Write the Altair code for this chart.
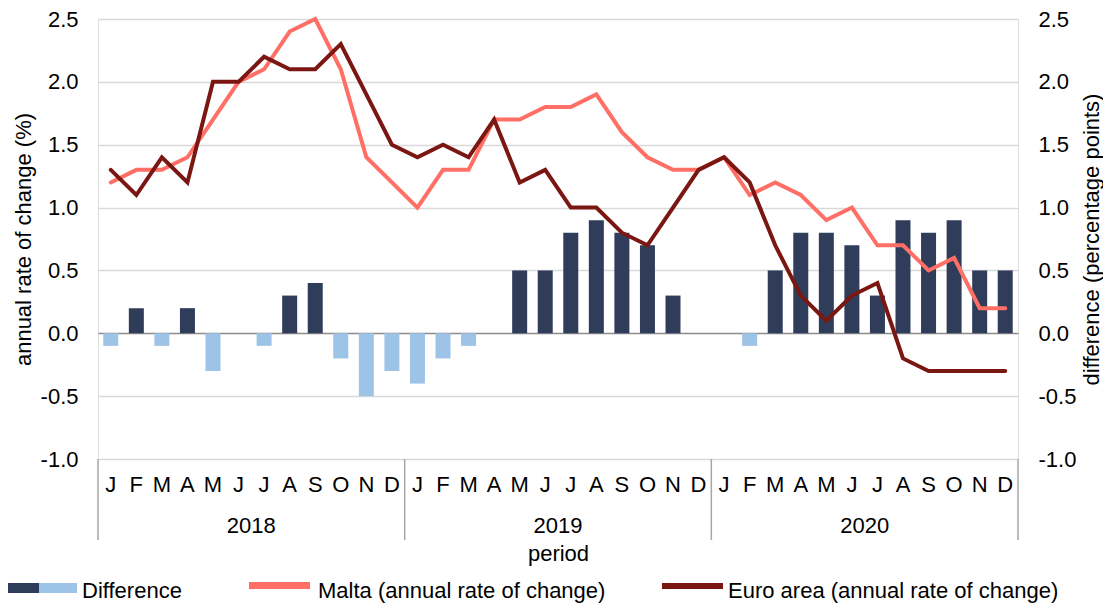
import altair as alt
import pandas as pd

# ---------------- data ----------------
years = ["2018", "2019", "2020"]
month_letters = ["J", "F", "M", "A", "M", "J", "J", "A", "S", "O", "N", "D"]
malta = [1.2, 1.3, 1.3, 1.4, 1.7, 2.0, 2.1, 2.4, 2.5, 2.1, 1.4, 1.2,
         1.0, 1.3, 1.3, 1.7, 1.7, 1.8, 1.8, 1.9, 1.6, 1.4, 1.3, 1.3,
         1.4, 1.1, 1.2, 1.1, 0.9, 1.0, 0.7, 0.7, 0.5, 0.6, 0.2, 0.2]
euro_area = [1.3, 1.1, 1.4, 1.2, 2.0, 2.0, 2.2, 2.1, 2.1, 2.3, 1.9, 1.5,
             1.4, 1.5, 1.4, 1.7, 1.2, 1.3, 1.0, 1.0, 0.8, 0.7, 1.0, 1.3,
             1.4, 1.2, 0.7, 0.3, 0.1, 0.3, 0.4, -0.2, -0.3, -0.3, -0.3, -0.3]
difference = [-0.1, 0.2, -0.1, 0.2, -0.3, 0.0, -0.1, 0.3, 0.4, -0.2, -0.5, -0.3,
              -0.4, -0.2, -0.1, 0.0, 0.5, 0.5, 0.8, 0.9, 0.8, 0.7, 0.3, 0.0,
              0.0, -0.1, 0.5, 0.8, 0.8, 0.7, 0.3, 0.9, 0.8, 0.9, 0.5, 0.5]
y_ticks = [-1.0, -0.5, 0.0, 0.5, 1.0, 1.5, 2.0, 2.5]

n = len(malta)
df = pd.DataFrame({
    "pos": [i + 0.5 for i in range(n)],
    "month": [month_letters[i % 12] for i in range(n)],
    "malta": malta,
    "euro": euro_area,
    "diff": difference,
})
year_df = pd.DataFrame({"year": years, "center": [6, 18, 30]})
sep_df = pd.DataFrame({"b": [0, 12, 24, 36]})

# ---------------- style ----------------
FONT = "Liberation Sans"
FS = 22
NAVY = "#2f3c5a"
LIGHT = "#9dc3e6"
MALTA_C = "#ff6f66"
EURO_C = "#7b1712"
W, H = 920, 440

xscale = alt.Scale(domain=[0, 36], nice=False, zero=False, padding=0)
yscale = alt.Scale(domain=[-1, 2.5], nice=False, zero=False)

x_axis = alt.Axis(labels=False, ticks=False, domain=False, grid=False,
                  title="period", titleFont=FONT, titleFontSize=FS,
                  titleFontWeight="normal", titleColor="#000",
                  titleY=94, titleBaseline="middle")

common_y = dict(values=y_ticks, format=".1f", ticks=False, domain=False,
                labelPadding=20, labelFont=FONT, labelFontSize=FS,
                labelColor="#000", titleFont=FONT, titleFontSize=FS,
                titleFontWeight="normal", titleColor="#000", titleAngle=270,
                titleY=H / 2, titleBaseline="middle", titleAlign="center")

bars = alt.Chart(df).mark_bar(size=15).encode(
    x=alt.X("pos:Q", scale=xscale, axis=x_axis),
    y=alt.Y("diff:Q", scale=yscale, axis=alt.Axis(
        orient="right", grid=False, title="difference (percentage points)",
        titleX=73, **common_y)),
    color=alt.condition("datum.diff > 0", alt.value(NAVY), alt.value(LIGHT)),
)

malta_line = alt.Chart(df).mark_line(
    color=MALTA_C, strokeWidth=4, strokeCap="round"
).encode(
    x=alt.X("pos:Q", scale=xscale),
    y=alt.Y("malta:Q", scale=yscale, axis=alt.Axis(
        orient="left", grid=True,
        gridColor=alt.condition("datum.value === 0",
                                alt.value("#8c8c8c"), alt.value("#d9d9d9")),
        gridWidth=1.5, title="annual rate of change (%)", titleX=-75,
        **common_y)),
)
euro_line = alt.Chart(df).mark_line(
    color=EURO_C, strokeWidth=4, strokeCap="round"
).encode(
    x=alt.X("pos:Q", scale=xscale),
    y=alt.Y("euro:Q", scale=yscale, axis=None),
)

# category axis: month letters, year labels, year separators
seps = alt.Chart(sep_df).mark_rule(color="#a6a6a6", strokeWidth=1.5).encode(
    x=alt.X("b:Q", scale=xscale), y=alt.value(H), y2=alt.value(H + 81)
)
month_text = alt.Chart(df).mark_text(
    font=FONT, fontSize=FS, color="#000", baseline="middle"
).encode(x=alt.X("pos:Q", scale=xscale), y=alt.value(H + 26), text="month:N")
year_text = alt.Chart(year_df).mark_text(
    font=FONT, fontSize=FS, color="#000", baseline="middle"
).encode(x=alt.X("center:Q", scale=xscale), y=alt.value(H + 67), text="year:N")

# legend (manual, matching the original's two-colour swatch)
one = pd.DataFrame({"k": [0]})
def swatch(x0, x1, y0, y1, c):
    return alt.Chart(one).mark_rect(color=c).encode(
        x=alt.value(x0), x2=alt.value(x1), y=alt.value(y0), y2=alt.value(y1))
def label(x0, t):
    return alt.Chart(one).mark_text(
        font=FONT, fontSize=FS, color="#000", align="left", baseline="alphabetic"
    ).encode(x=alt.value(x0), y=alt.value(579), text=alt.value(t))

legend_parts = [
    swatch(-90, -59, 564, 574, NAVY),
    swatch(-59, -21, 564, 574, LIGHT),
    label(-16, "Difference"),
    swatch(151, 212, 563, 570, MALTA_C),
    label(220, "Malta (annual rate of change)"),
    swatch(564, 625, 564, 570, EURO_C),
    label(630, "Euro area (annual rate of change)"),
]

chart = alt.layer(
    bars, malta_line, euro_line, seps, month_text, year_text, *legend_parts
).resolve_scale(y="independent").properties(
    width=W, height=H,
    autosize=alt.AutoSizeParams(type="none"),
    padding={"left": 90, "top": 11, "right": 85, "bottom": 144},
).configure_view(stroke=None).configure(
    locale={"number": {"decimal": ".", "thousands": ",", "grouping": [3],
                       "currency": ["", ""], "minus": "-"}}
)

chart.save("out.html", embed_options={"renderer": "svg", "actions": False})
